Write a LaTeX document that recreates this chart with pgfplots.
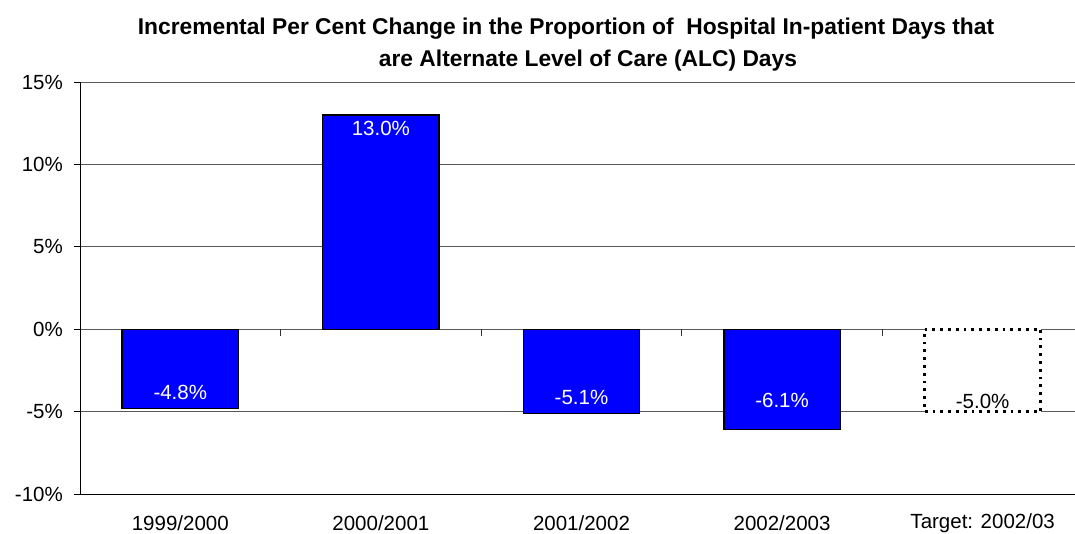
\documentclass[border=0pt]{standalone}
\usepackage{pgfplots}
\pgfplotsset{compat=1.18}
\usepackage{fontspec}
\setmainfont{Liberation Sans}
\newcommand{\lbl}{\fontsize{20.5}{24}\selectfont}
\begin{document}
\begin{tikzpicture}[x=1pt,y=1pt]
\begin{axis}[
  at={(80pt,39pt)}, anchor=south west,
  scale only axis, width=1003pt, height=412pt,
  xmin=-0.5, xmax=4.5, ymin=-10, ymax=15,
  axis lines*=left,
  axis line style={black, line width=1pt, -},
  ymajorgrids,
  grid style={black!65, line width=0.9pt},
  xtick={0,1,2,3,4},
  xticklabels={1999/2000,2000/2001,2001/2002,2002/2003,Target: 2002/03},
  x tick style={draw=none},
  ytick={-10,-5,0,5,10,15},
  yticklabels={-10\%,-5\%,0\%,5\%,10\%,15\%},
  y tick style={black, line width=0.9pt},
  tick align=outside, major tick length=6pt,
  xticklabel style={anchor=center, inner sep=0pt, yshift=-23pt, font=\lbl},
  yticklabel style={anchor=east, inner sep=0pt, xshift=-11pt, font=\lbl},
  clip=false,
]
\addplot[ybar, bar width=0.58, bar shift=0pt, fill=blue, draw=black, line width=1.3pt]
  coordinates {(0,-4.8) (1,13.0) (2,-5.1) (3,-6.1)};
\addplot[ybar, bar width=0.58, bar shift=0pt, fill=white, draw=black, line width=2.8pt, dash pattern=on 2.8pt off 5pt]
  coordinates {(4,-5.0)};
\addplot[only marks, mark=none, point meta=explicit symbolic, nodes near coords,
  nodes near coords style={anchor=center, text=white, font=\lbl, inner sep=0pt}]
  coordinates {(0,-3.81)[-4.8\%] (1,12.21)[13.0\%] (2,-4.17)[-5.1\%] (3,-4.30)[-6.1\%]};
\addplot[only marks, mark=none, point meta=explicit symbolic, nodes near coords,
  nodes near coords style={anchor=center, text=black, font=\lbl, inner sep=0pt}]
  coordinates {(4,-4.36)[-5.0\%]};
\draw[black!80, line width=1.2pt] (axis cs:0.5,0) -- ++(0pt,-7pt);
\draw[black!80, line width=1.2pt] (axis cs:1.5,0) -- ++(0pt,-7pt);
\draw[black!80, line width=1.2pt] (axis cs:2.5,0) -- ++(0pt,-7pt);
\draw[black!80, line width=1.2pt] (axis cs:3.5,0) -- ++(0pt,-7pt);
\end{axis}
\node[font=\bfseries\fontsize{22.8}{26}\selectfont, inner sep=0pt] at (566pt,504pt) {Incremental Per Cent Change in the Proportion of\ \ Hospital In-patient Days that};
\node[font=\bfseries\fontsize{22.8}{26}\selectfont, inner sep=0pt] at (588pt,472pt) {are Alternate Level of Care (ALC) Days};
\pgfresetboundingbox
\path[use as bounding box] (0,0) rectangle (1075pt,533pt);
\end{tikzpicture}
\end{document}
